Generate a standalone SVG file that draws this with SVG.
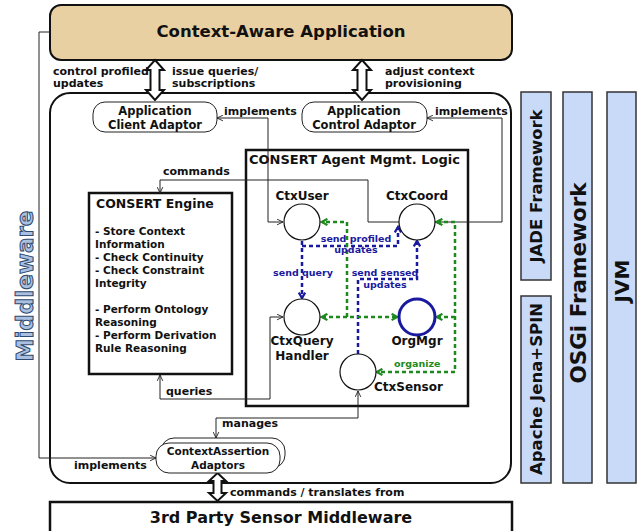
<svg xmlns="http://www.w3.org/2000/svg" width="641" height="531" viewBox="0 0 641 531">
<defs>
<style>
text{font-family:"DejaVu Sans","Liberation Sans",sans-serif;font-weight:bold;fill:#111}
.lbl{font-size:11px}
.node{font-size:11.5px}
.ag{font-size:12px}
.eng{font-size:10.5px}
.bl{font-size:9.5px;fill:#1a1a9e}
.gr{font-size:9.5px;fill:#1e8a1e}
.thin{fill:none;stroke:#222;stroke-width:1}
.bd{fill:none;stroke:#1a1a9e;stroke-width:2.5;stroke-dasharray:4 3}
.gd{fill:none;stroke:#1e8a1e;stroke-width:2.5;stroke-dasharray:4 3}
.dbl{fill:#fff;stroke:#111;stroke-width:2}
.bar{fill:#c9daf8;stroke:#333;stroke-width:1.5}
.ad{fill:#fff;stroke:#222;stroke-width:1}
.ci{fill:#fff;stroke:#111;stroke-width:1.2}
</style>
<marker id="ah" viewBox="0 0 10 10" refX="9.5" refY="5" markerWidth="7" markerHeight="7" orient="auto-start-reverse" markerUnits="userSpaceOnUse"><path d="M1,1 L9.5,5 L1,9" fill="none" stroke="#222" stroke-width="1.3"/></marker>
<marker id="bh" viewBox="0 0 10 10" refX="8" refY="5" markerWidth="9" markerHeight="9" orient="auto-start-reverse" markerUnits="userSpaceOnUse"><path d="M2,1.5 L8,5 L2,8.5" fill="none" stroke="#1a1a9e" stroke-width="2.5"/></marker>
<marker id="gh" viewBox="0 0 10 10" refX="8" refY="5" markerWidth="9" markerHeight="9" orient="auto-start-reverse" markerUnits="userSpaceOnUse"><path d="M2,1.5 L8,5 L2,8.5" fill="none" stroke="#1e8a1e" stroke-width="2.5"/></marker>
</defs>

<g id="middleware-label"><text transform="translate(33,286) rotate(-90)" text-anchor="middle" style="font-size:23px;fill:#a9c0e0;stroke:#2f4a70;stroke-width:1">Middleware</text></g>

<g id="middleware"><rect x="50" y="93" width="461" height="390" rx="20" fill="#fff" stroke="#111" stroke-width="2"/></g>

<g id="app"><rect x="50" y="5" width="462" height="55" rx="11" fill="#e9d0a2" stroke="#111" stroke-width="2"/><text x="281" y="37" text-anchor="middle" style="font-size:16.5px">Context-Aware Application</text></g>

<g id="sensor-mw"><rect x="50" y="502" width="462" height="40" fill="#fff" stroke="#111" stroke-width="2.5"/><text x="281" y="523" text-anchor="middle" style="font-size:16px">3rd Party Sensor Middleware</text></g>

<g id="agent-logic"><rect x="246" y="150" width="222" height="256" fill="#fff" stroke="#111" stroke-width="2.5"/><text x="249" y="164" style="font-size:13px">CONSERT Agent Mgmt. Logic</text></g>

<g id="engine"><rect x="89" y="193" width="143" height="181" fill="#fff" stroke="#111" stroke-width="2.5"/>
<text x="96" y="208" style="font-size:12.5px">CONSERT Engine</text>
<text class="eng" x="95" y="235">- Store Context</text>
<text class="eng" x="95" y="248">Information</text>
<text class="eng" x="95" y="261">- Check Continuity</text>
<text class="eng" x="95" y="274">- Check Constraint</text>
<text class="eng" x="95" y="287">Integrity</text>
<text class="eng" x="95" y="313">- Perform Ontology</text>
<text class="eng" x="95" y="326">Reasoning</text>
<text class="eng" x="95" y="339">- Perform Derivation</text>
<text class="eng" x="95" y="352">Rule Reasoning</text>
</g>

<g id="connectors">
<polyline class="thin" points="50,32 39,32 39,458 156,458" marker-end="url(#ah)"/>
<polyline class="thin" points="217,118 268,118 268,222 283,222" marker-start="url(#ah)" marker-end="url(#ah)"/>
<polyline class="thin" points="427,118 502,118 502,222 435,222" marker-start="url(#ah)" marker-end="url(#ah)"/>
<polyline class="thin" points="399,222 368,222 368,180 160,180 160,193" marker-end="url(#ah)"/>
<polyline class="thin" points="283,317 270,317 270,399 160,399 160,375" marker-start="url(#ah)" marker-end="url(#ah)"/>
<polyline class="thin" points="358,391 358,418 216,418 216,438" marker-start="url(#ah)" marker-end="url(#ah)"/>
<polyline class="bd" points="302,241 302,298" marker-end="url(#bh)"/>
<polyline class="bd" points="302,246 398,246 398,227" marker-end="url(#bh)"/>
<polyline class="bd" points="358,354 358,279 417,279 417,241" marker-end="url(#bh)"/>
<polyline class="gd" points="322,317 397,317" marker-start="url(#gh)" marker-end="url(#gh)"/>
<polyline class="gd" points="347,317 347,222 322,222" marker-end="url(#gh)"/>
<polyline class="gd" points="437,222 455,222 455,372 377,372" marker-start="url(#gh)" marker-end="url(#gh)"/>
<polyline class="gd" points="455,317 437,317" marker-end="url(#gh)"/>
<polygon class="dbl" points="155,60 164,70 159.5,70 159.5,90 164,90 155,100 146,90 150.5,90 150.5,70 146,70"/>
<polygon class="dbl" points="362,60 371,70 366.5,70 366.5,90 371,90 362,100 353,90 357.5,90 357.5,70 353,70"/>
<polygon class="dbl" points="217.5,473 226,481 221.5,481 221.5,493 226,493 217.5,501 209,493 213.5,493 213.5,481 209,481"/>
</g>

<g id="labels">
<text class="lbl" x="53" y="75">control profiled</text>
<text class="lbl" x="53" y="87">updates</text>
<text class="lbl" x="172" y="75">issue queries/</text>
<text class="lbl" x="172" y="87">subscriptions</text>
<text class="lbl" x="385" y="75">adjust context</text>
<text class="lbl" x="385" y="87">provisioning</text>
<text class="lbl" x="224" y="115">implements</text>
<text class="lbl" x="435" y="115">implements</text>
<text class="lbl" x="163" y="175">commands</text>
<text class="lbl" x="166" y="395">queries</text>
<text class="lbl" x="222" y="427">manages</text>
<text class="lbl" x="74" y="469">implements</text>
<text class="lbl" x="230" y="496">commands / translates from</text>
<text class="bl" x="356" y="242" text-anchor="middle">send profiled</text>
<text class="bl" x="356" y="253" text-anchor="middle">updates</text>
<text class="bl" x="303" y="276" text-anchor="middle">send query</text>
<text class="bl" x="385" y="276" text-anchor="middle">send sensed</text>
<text class="bl" x="385" y="288" text-anchor="middle">updates</text>
<text class="gr" x="394" y="367">organize</text>
</g>

<g id="app-client-adaptor"><rect class="ad" x="93" y="102" width="124" height="30" rx="12"/><text class="node" x="155" y="115" text-anchor="middle">Application</text><text class="node" x="155" y="129" text-anchor="middle">Client Adaptor</text></g>
<g id="app-control-adaptor"><rect class="ad" x="302" y="102" width="125" height="30" rx="12"/><text class="node" x="364" y="115" text-anchor="middle">Application</text><text class="node" x="364" y="129" text-anchor="middle">Control Adaptor</text></g>
<g id="ctx-assertion-adaptors"><rect class="ad" x="161" y="438" width="124" height="30" rx="13"/><rect class="ad" x="156" y="443" width="124" height="30" rx="13"/><text x="218" y="455" text-anchor="middle" style="font-size:10.5px">ContextAssertion</text><text x="218" y="469" text-anchor="middle" style="font-size:10.5px">Adaptors</text></g>

<g id="ctxuser"><circle class="ci" cx="302" cy="222" r="18"/><text class="ag" x="302" y="200" text-anchor="middle">CtxUser</text></g>
<g id="ctxcoord"><circle class="ci" cx="417" cy="222" r="18"/><text class="ag" x="417" y="200" text-anchor="middle">CtxCoord</text></g>
<g id="ctxqueryhandler"><circle class="ci" cx="302" cy="317" r="18"/><text class="ag" x="302" y="345" text-anchor="middle">CtxQuery</text><text class="ag" x="302" y="360" text-anchor="middle">Handler</text></g>
<g id="orgmgr"><circle cx="417" cy="317" r="18" fill="#fff" stroke="#1a1a9e" stroke-width="3"/><text class="ag" x="417" y="345" text-anchor="middle">OrgMgr</text></g>
<g id="ctxsensor"><circle class="ci" cx="358" cy="372" r="18"/><text class="ag" x="374" y="391">CtxSensor</text></g>

<g id="jade"><rect class="bar" x="521" y="92" width="30" height="188"/><text transform="translate(542,186) rotate(-90)" text-anchor="middle" style="font-size:16.5px">JADE Framework</text></g>
<g id="jena"><rect class="bar" x="521" y="296" width="30" height="187"/><text transform="translate(542,389) rotate(-90)" text-anchor="middle" style="font-size:16.5px">Apache Jena+SPIN</text></g>
<g id="osgi"><rect class="bar" x="563" y="92" width="29" height="391"/><text transform="translate(585.5,283) rotate(-90)" text-anchor="middle" style="font-size:21.5px">OSGi Framework</text></g>
<g id="jvm"><rect class="bar" x="607" y="92" width="29" height="391"/><text transform="translate(629,281) rotate(-90)" text-anchor="middle" style="font-size:20px">JVM</text></g>
</svg>
